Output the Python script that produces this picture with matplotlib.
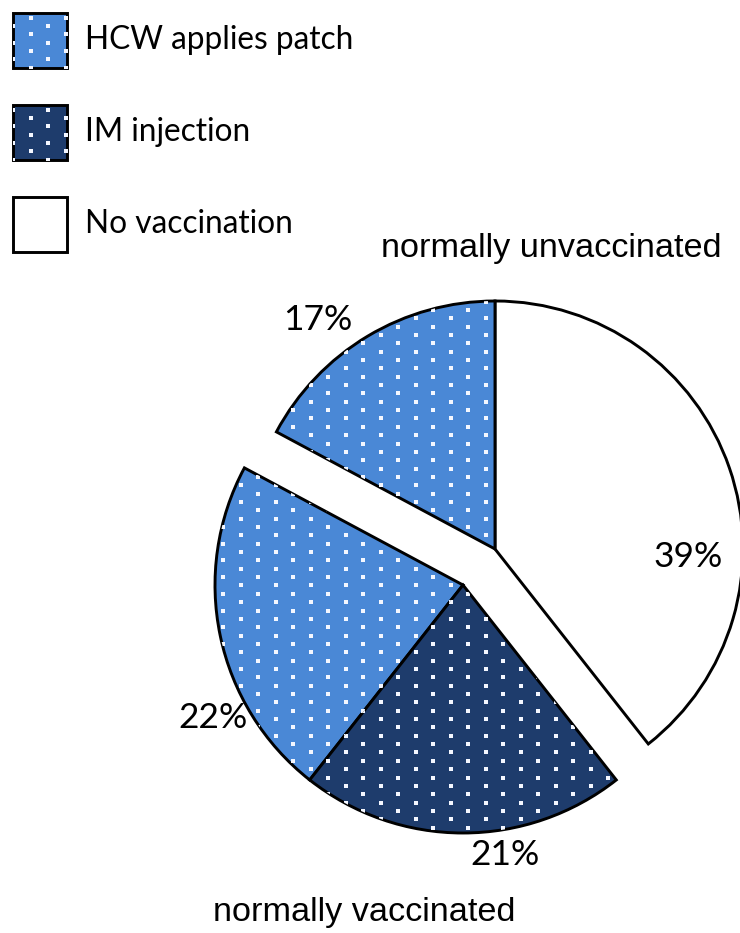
import numpy as np
import matplotlib.pyplot as plt
from matplotlib.patches import Rectangle

categories = ['HCW applies patch', 'IM injection', 'No vaccination']
colors = ['#4a88d6', '#1e3c6c', 'white']

# normally unvaccinated group: no vaccination + HCW applies patch
unvacc_values = [39, 17]
unvacc_kinds = [2, 0]
# normally vaccinated group: HCW applies patch + IM injection
vacc_values = [22, 21]
vacc_kinds = [0, 1]
group_titles = ['normally unvaccinated', 'normally vaccinated']

total = sum(unvacc_values) + sum(vacc_values)

W, H = 740, 933
fig = plt.figure(figsize=(7.4, 9.33), dpi=100)
ax = fig.add_axes([0, 0, 1, 1])

R = 248
c_top = (495, H - 549)
c_bot = (463, H - 585)
edge = dict(edgecolor='black', linewidth=2.1)

start_top = 90 - 360 * unvacc_values[0] / total
w_top, _ = ax.pie([v / total for v in unvacc_values],
                  colors=[colors[k] for k in unvacc_kinds],
                  startangle=start_top, counterclock=True, radius=R,
                  center=c_top, normalize=False, wedgeprops=edge)
start_bot = 90 + 360 * unvacc_values[1] / total
w_bot, _ = ax.pie([v / total for v in vacc_values],
                  colors=[colors[k] for k in vacc_kinds],
                  startangle=start_bot, counterclock=True, radius=R,
                  center=c_bot, normalize=False, wedgeprops=edge)

# white dot texture
gx, gy = [], []
for j, y in enumerate(np.arange(343.3 - 8.35 * 42, H, 8.35)):
    x0 = 13.3 if j % 2 == 0 else 30.8
    for x in np.arange(x0, W, 35):
        gx.append(x)
        gy.append(H - y)
gx, gy = np.array(gx), np.array(gy)


def dots(patch):
    sc = ax.scatter(gx, gy, marker='s', s=8, c='#f4f7ff', linewidths=0, zorder=patch.get_zorder() + 0.1)
    sc.set_clip_path(patch)


for wd, k in zip(w_top, unvacc_kinds):
    if colors[k] != 'white':
        dots(wd)
for wd, k in zip(w_bot, vacc_kinds):
    if colors[k] != 'white':
        dots(wd)

# percentage labels
lab_font = dict(family='Lato', fontsize=25.5, ha='center', va='center')
ax.text(688, H - 557, f'{unvacc_values[0]}%', **lab_font)
ax.text(318, H - 320, f'{unvacc_values[1]}%', **lab_font)
ax.text(213, H - 718, f'{vacc_values[0]}%', **lab_font)
ax.text(505, H - 855, f'{vacc_values[1]}%', **lab_font)

title_font = dict(family='Liberation Sans', fontsize=24.7, ha='center', va='center')
ax.text(551, H - 248, group_titles[0], **title_font)
ax.text(364, H - 912, group_titles[1], **title_font)

# legend
box_tops = [13, 105, 197]
for cat, col, top in zip(categories, colors, box_tops):
    rect = Rectangle((13, H - top - 55), 54, 55, facecolor=col, edgecolor='black', linewidth=2.1, zorder=2)
    ax.add_patch(rect)
    if col != 'white':
        dots(rect)
    ax.text(85, H - top - 27, cat, family='Lato', fontsize=22.8, ha='left', va='center')

ax.set_xlim(0, W)
ax.set_ylim(0, H)
ax.axis('off')

fig.savefig('out.png', dpi=100)
